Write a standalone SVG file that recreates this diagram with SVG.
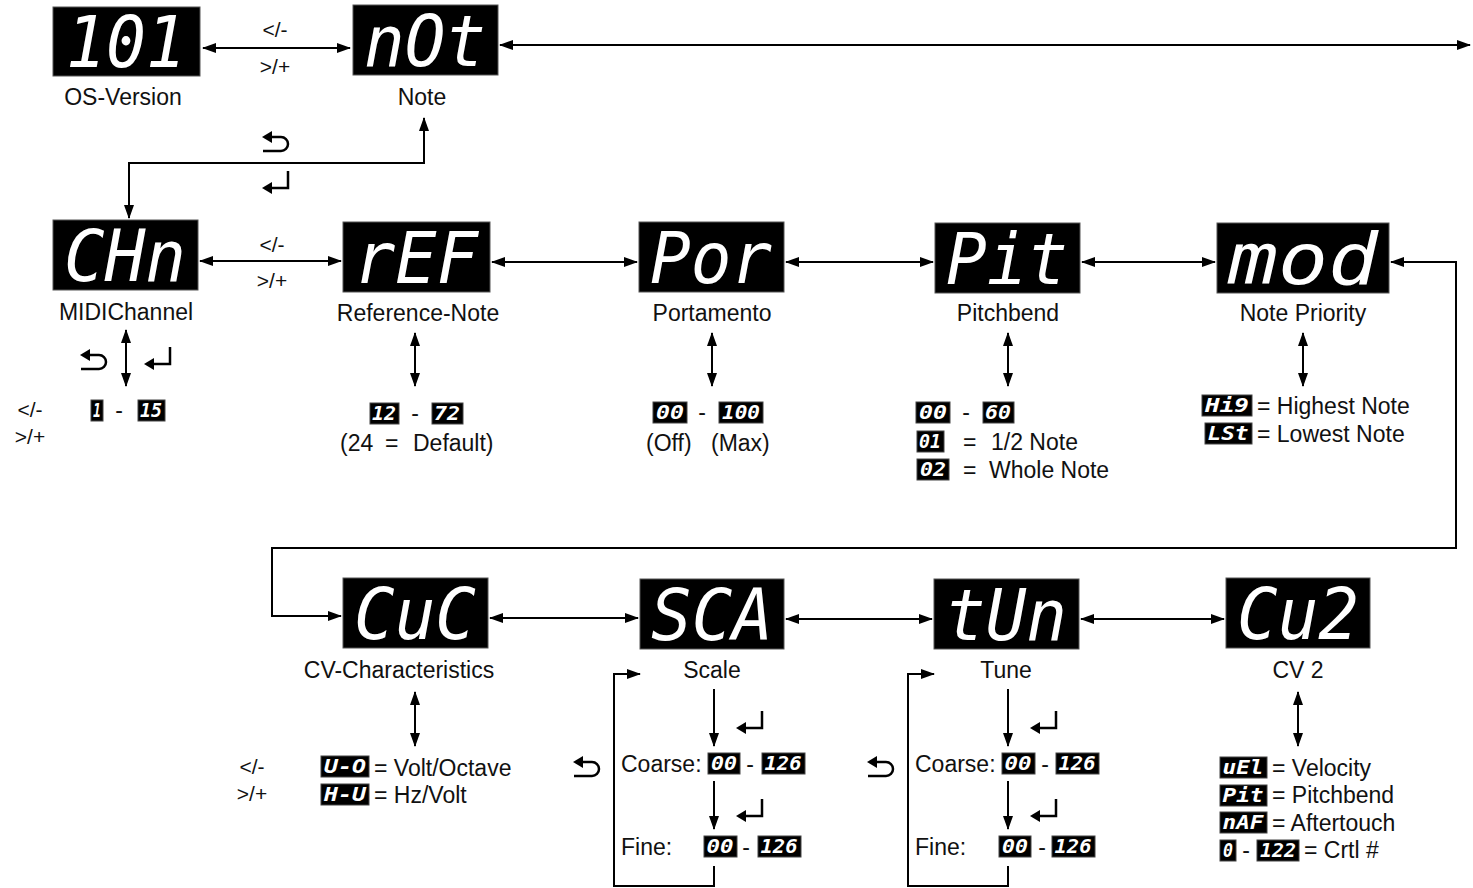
<svg xmlns="http://www.w3.org/2000/svg" xmlns:xlink="http://www.w3.org/1999/xlink" width="1473" height="888" viewBox="0 0 1473 888">
<style>
.bg{fill:#fff}
.disp{fill:#000;stroke:#555;stroke-width:1}
.seg{font-family:"DejaVu Sans Mono",monospace;font-style:oblique;fill:#fff;font-size:72px;text-anchor:middle}
.sd{fill:#000;stroke:#444;stroke-width:1}
.sdt{font-family:"DejaVu Sans Mono",monospace;font-style:oblique;font-weight:bold;fill:#fff;font-size:19px;text-anchor:middle}
.lbl{font-family:"Liberation Sans",Arial,sans-serif;font-size:23px;fill:#111;text-anchor:middle}
.txt{font-family:"Liberation Sans",Arial,sans-serif;font-size:23px;fill:#111}
.key{font-family:"Liberation Sans",Arial,sans-serif;font-size:21px;fill:#111;text-anchor:middle}
.ln{fill:none;stroke:#000;stroke-width:2}
.ic{fill:none;stroke:#000;stroke-width:2.5}
</style>
<defs>
<marker id="ah" viewBox="0 0 14 10" refX="13" refY="5" markerWidth="14" markerHeight="10" markerUnits="userSpaceOnUse" orient="auto-start-reverse">
<path d="M0,0 L14,5 L0,10 Z" fill="#000"/>
</marker>
<g id="back">
<path d="M-15,-5 L-5,-11 L-5,1 Z" fill="#000"/>
<path class="ic" d="M-5,-5 H4 A7,7 0 0 1 4,9 H-14"/>
</g>
<g id="enter">
<path class="ic" d="M12,-11 V6 H-4"/>
<path d="M-14,6 L-4,0 L-4,12 Z" fill="#000"/>
</g>
</defs>
<rect class="bg" x="0" y="0" width="1473" height="888"/>

<g id="connectors">
<path class="ln" d="M203,48 H350" marker-start="url(#ah)" marker-end="url(#ah)"/>
<path class="ln" d="M500,45 H1470" marker-start="url(#ah)" marker-end="url(#ah)"/>
<path class="ln" d="M424,118 V163 H129 V218" marker-start="url(#ah)" marker-end="url(#ah)"/>
<path class="ln" d="M200,261 H341" marker-start="url(#ah)" marker-end="url(#ah)"/>
<path class="ln" d="M492,262 H637" marker-start="url(#ah)" marker-end="url(#ah)"/>
<path class="ln" d="M786,262 H933" marker-start="url(#ah)" marker-end="url(#ah)"/>
<path class="ln" d="M1082,262 H1215" marker-start="url(#ah)" marker-end="url(#ah)"/>
<path class="ln" d="M1391,262 H1456 V548 H272 V616 H341" marker-start="url(#ah)" marker-end="url(#ah)"/>
<path class="ln" d="M490,618 H638" marker-start="url(#ah)" marker-end="url(#ah)"/>
<path class="ln" d="M786,619 H932" marker-start="url(#ah)" marker-end="url(#ah)"/>
<path class="ln" d="M1081,619 H1224" marker-start="url(#ah)" marker-end="url(#ah)"/>
<path class="ln" d="M126,330 V386" marker-start="url(#ah)" marker-end="url(#ah)"/>
<path class="ln" d="M415,333 V386" marker-start="url(#ah)" marker-end="url(#ah)"/>
<path class="ln" d="M712,333 V386" marker-start="url(#ah)" marker-end="url(#ah)"/>
<path class="ln" d="M1008,333 V386" marker-start="url(#ah)" marker-end="url(#ah)"/>
<path class="ln" d="M1303,333 V386" marker-start="url(#ah)" marker-end="url(#ah)"/>
<path class="ln" d="M415,692 V746" marker-start="url(#ah)" marker-end="url(#ah)"/>
<path class="ln" d="M1298,692 V746" marker-start="url(#ah)" marker-end="url(#ah)"/>
<path class="ln" d="M714,689 V746" marker-end="url(#ah)"/>
<path class="ln" d="M714,781 V829" marker-end="url(#ah)"/>
<path class="ln" d="M714,866 V886 H614 V674 H640" marker-end="url(#ah)"/>
<path class="ln" d="M1008,689 V746" marker-end="url(#ah)"/>
<path class="ln" d="M1008,781 V829" marker-end="url(#ah)"/>
<path class="ln" d="M1008,866 V886 H908 V674 H934" marker-end="url(#ah)"/>
<text class="key" x="275" y="37">&lt;/-</text>
<text class="key" x="275" y="74">&gt;/+</text>
<text class="key" x="272" y="252">&lt;/-</text>
<text class="key" x="272" y="288">&gt;/+</text>
<use xlink:href="#back" x="277" y="142"/>
<use xlink:href="#enter" x="276" y="182"/>
<use xlink:href="#back" x="95" y="360"/>
<use xlink:href="#enter" x="158" y="358"/>
<use xlink:href="#back" x="588" y="767"/>
<use xlink:href="#enter" x="750" y="722"/>
<use xlink:href="#enter" x="750" y="810"/>
<use xlink:href="#back" x="882" y="767"/>
<use xlink:href="#enter" x="1044" y="722"/>
<use xlink:href="#enter" x="1044" y="810"/>
</g>

<g id="node-os-version">
<rect class="disp" x="53" y="7" width="147" height="69"/>
<text class="seg" x="126" y="67" textLength="120" lengthAdjust="spacingAndGlyphs">101</text>
<text class="lbl" x="123" y="105">OS-Version</text>
</g>
<g id="node-note">
<rect class="disp" x="353" y="5" width="145" height="70"/>
<text class="seg" x="425" y="66" textLength="122" lengthAdjust="spacingAndGlyphs">nOt</text>
<text class="lbl" x="422" y="105">Note</text>
</g>

<g id="node-midichannel">
<rect class="disp" x="53" y="220" width="145" height="70"/>
<text class="seg" x="125" y="281" textLength="122" lengthAdjust="spacingAndGlyphs">CHn</text>
<text class="lbl" x="126" y="320">MIDIChannel</text>
<text class="key" x="30" y="417">&lt;/-</text>
<text class="key" x="30" y="444">&gt;/+</text>
<rect class="sd" x="91" y="400" width="12" height="21"/>
<text class="sdt" x="97" y="417" textLength="8" lengthAdjust="spacingAndGlyphs">1</text>
<text class="lbl" x="119" y="418">-</text>
<rect class="sd" x="138" y="400" width="27" height="21"/>
<text class="sdt" x="151" y="417" textLength="22" lengthAdjust="spacingAndGlyphs">15</text>
</g>

<g id="node-reference-note">
<rect class="disp" x="343" y="222" width="147" height="70"/>
<text class="seg" x="416" y="283" textLength="124" lengthAdjust="spacingAndGlyphs">rEF</text>
<text class="lbl" x="418" y="321">Reference-Note</text>
<rect class="sd" x="370" y="403" width="29" height="21"/>
<text class="sdt" x="384" y="420" textLength="24" lengthAdjust="spacingAndGlyphs">12</text>
<text class="lbl" x="415" y="421">-</text>
<rect class="sd" x="432" y="403" width="31" height="21"/>
<text class="sdt" x="447" y="420" textLength="26" lengthAdjust="spacingAndGlyphs">72</text>
<text class="txt" x="340" y="451">(24</text>
<text class="txt" x="385" y="451">=</text>
<text class="txt" x="413" y="451">Default)</text>
</g>

<g id="node-portamento">
<rect class="disp" x="639" y="222" width="145" height="70"/>
<text class="seg" x="711" y="283" textLength="122" lengthAdjust="spacingAndGlyphs">Por</text>
<text class="lbl" x="712" y="321">Portamento</text>
<rect class="sd" x="653" y="402" width="34" height="21"/>
<text class="sdt" x="670" y="419" textLength="28" lengthAdjust="spacingAndGlyphs">00</text>
<text class="lbl" x="702" y="420">-</text>
<rect class="sd" x="719" y="402" width="44" height="21"/>
<text class="sdt" x="741" y="419" textLength="38" lengthAdjust="spacingAndGlyphs">100</text>
<text class="txt" x="646" y="451">(Off)</text>
<text class="txt" x="711" y="451">(Max)</text>
</g>

<g id="node-pitchbend">
<rect class="disp" x="935" y="223" width="145" height="70"/>
<text class="seg" x="1007" y="284" textLength="122" lengthAdjust="spacingAndGlyphs">Pit</text>
<text class="lbl" x="1008" y="321">Pitchbend</text>
<rect class="sd" x="916" y="402" width="34" height="21"/>
<text class="sdt" x="933" y="419" textLength="28" lengthAdjust="spacingAndGlyphs">00</text>
<text class="lbl" x="966" y="420">-</text>
<rect class="sd" x="983" y="402" width="31" height="21"/>
<text class="sdt" x="998" y="419" textLength="26" lengthAdjust="spacingAndGlyphs">60</text>
<rect class="sd" x="917" y="431" width="27" height="21"/>
<text class="sdt" x="930" y="448" textLength="22" lengthAdjust="spacingAndGlyphs">01</text>
<text class="txt" x="963" y="450">=</text>
<text class="txt" x="991" y="450">1/2 Note</text>
<rect class="sd" x="917" y="459" width="32" height="21"/>
<text class="sdt" x="933" y="476" textLength="26" lengthAdjust="spacingAndGlyphs">02</text>
<text class="txt" x="963" y="478">=</text>
<text class="txt" x="989" y="478">Whole Note</text>
</g>

<g id="node-note-priority">
<rect class="disp" x="1217" y="223" width="172" height="70"/>
<text class="seg" x="1303" y="284" textLength="150" lengthAdjust="spacingAndGlyphs">mod</text>
<text class="lbl" x="1303" y="321">Note Priority</text>
<rect class="sd" x="1202" y="395" width="50" height="21"/>
<text class="sdt" x="1227" y="412" textLength="44" lengthAdjust="spacingAndGlyphs">Hi9</text>
<text class="txt" x="1257" y="414">= Highest Note</text>
<rect class="sd" x="1205" y="423" width="47" height="21"/>
<text class="sdt" x="1228" y="440" textLength="41" lengthAdjust="spacingAndGlyphs">LSt</text>
<text class="txt" x="1257" y="442">= Lowest Note</text>
</g>

<g id="node-cv-characteristics">
<rect class="disp" x="343" y="578" width="145" height="70"/>
<text class="seg" x="415" y="639" textLength="122" lengthAdjust="spacingAndGlyphs">CuC</text>
<text class="lbl" x="399" y="678">CV-Characteristics</text>
<text class="key" x="252" y="774">&lt;/-</text>
<text class="key" x="252" y="801">&gt;/+</text>
<rect class="sd" x="321" y="756" width="48" height="21"/>
<text class="sdt" x="345" y="773" textLength="42" lengthAdjust="spacingAndGlyphs">U-O</text>
<text class="txt" x="374" y="776">= Volt/Octave</text>
<rect class="sd" x="321" y="784" width="48" height="21"/>
<text class="sdt" x="345" y="801" textLength="42" lengthAdjust="spacingAndGlyphs">H-U</text>
<text class="txt" x="374" y="803">= Hz/Volt</text>
</g>

<g id="node-scale">
<rect class="disp" x="640" y="579" width="144" height="70"/>
<text class="seg" x="712" y="640" textLength="122" lengthAdjust="spacingAndGlyphs">SCA</text>
<text class="lbl" x="712" y="678">Scale</text>
<text class="txt" x="621" y="772">Coarse:</text>
<rect class="sd" x="708" y="753" width="32" height="21"/>
<text class="sdt" x="724" y="770" textLength="26" lengthAdjust="spacingAndGlyphs">00</text>
<text class="lbl" x="750" y="772">-</text>
<rect class="sd" x="762" y="753" width="43" height="21"/>
<text class="sdt" x="783" y="770" textLength="37" lengthAdjust="spacingAndGlyphs">126</text>
<text class="txt" x="621" y="855">Fine:</text>
<rect class="sd" x="704" y="836" width="33" height="21"/>
<text class="sdt" x="720" y="853" textLength="27" lengthAdjust="spacingAndGlyphs">00</text>
<text class="lbl" x="746" y="855">-</text>
<rect class="sd" x="758" y="836" width="43" height="21"/>
<text class="sdt" x="779" y="853" textLength="37" lengthAdjust="spacingAndGlyphs">126</text>
</g>

<g id="node-tune">
<rect class="disp" x="934" y="579" width="145" height="70"/>
<text class="seg" x="1006" y="640" textLength="122" lengthAdjust="spacingAndGlyphs">tUn</text>
<text class="lbl" x="1006" y="678">Tune</text>
<text class="txt" x="915" y="772">Coarse:</text>
<rect class="sd" x="1002" y="753" width="33" height="21"/>
<text class="sdt" x="1018" y="770" textLength="27" lengthAdjust="spacingAndGlyphs">00</text>
<text class="lbl" x="1045" y="772">-</text>
<rect class="sd" x="1056" y="753" width="43" height="21"/>
<text class="sdt" x="1077" y="770" textLength="37" lengthAdjust="spacingAndGlyphs">126</text>
<text class="txt" x="915" y="855">Fine:</text>
<rect class="sd" x="999" y="836" width="32" height="21"/>
<text class="sdt" x="1015" y="853" textLength="26" lengthAdjust="spacingAndGlyphs">00</text>
<text class="lbl" x="1042" y="855">-</text>
<rect class="sd" x="1052" y="836" width="43" height="21"/>
<text class="sdt" x="1073" y="853" textLength="37" lengthAdjust="spacingAndGlyphs">126</text>
</g>

<g id="node-cv2">
<rect class="disp" x="1226" y="578" width="144" height="70"/>
<text class="seg" x="1298" y="639" textLength="122" lengthAdjust="spacingAndGlyphs">Cu2</text>
<text class="lbl" x="1298" y="678">CV 2</text>
<rect class="sd" x="1220" y="757" width="47" height="21"/>
<text class="sdt" x="1243" y="774" textLength="41" lengthAdjust="spacingAndGlyphs">uEl</text>
<text class="txt" x="1272" y="776">= Velocity</text>
<rect class="sd" x="1220" y="785" width="47" height="21"/>
<text class="sdt" x="1243" y="802" textLength="41" lengthAdjust="spacingAndGlyphs">Pit</text>
<text class="txt" x="1272" y="803">= Pitchbend</text>
<rect class="sd" x="1220" y="812" width="47" height="21"/>
<text class="sdt" x="1243" y="829" textLength="41" lengthAdjust="spacingAndGlyphs">nAF</text>
<text class="txt" x="1272" y="831">= Aftertouch</text>
<rect class="sd" x="1220" y="840" width="16" height="21"/>
<text class="sdt" x="1228" y="857" textLength="10" lengthAdjust="spacingAndGlyphs">0</text>
<text class="lbl" x="1246" y="858">-</text>
<rect class="sd" x="1257" y="840" width="42" height="21"/>
<text class="sdt" x="1278" y="857" textLength="36" lengthAdjust="spacingAndGlyphs">122</text>
<text class="txt" x="1304" y="858">= Crtl #</text>
</g>
</svg>
